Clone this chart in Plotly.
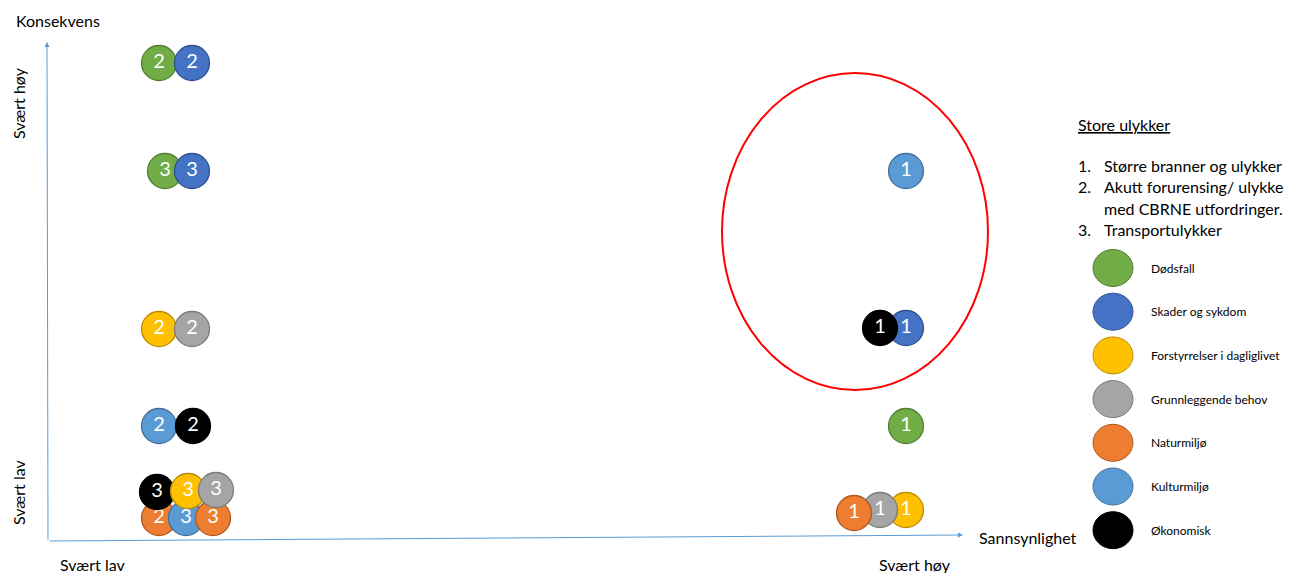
import plotly.graph_objects as go

# Risk matrix: each bubble is one consequence type for one incident category
# (1 = Større branner og ulykker, 2 = Akutt forurensing, 3 = Transportulykker).
# Coordinates are on the diagram's own scale: x = sannsynlighet, y = konsekvens.
labels = ["2", "2", "3", "3", "2", "2", "2", "2",
          "2", "3", "3", "3", "3", "3",
          "1", "1", "1", "1", "1", "1", "1"]
kinds = ["Dødsfall", "Skader og sykdom", "Dødsfall", "Skader og sykdom",
         "Forstyrrelser i dagliglivet", "Grunnleggende behov",
         "Kulturmiljø", "Økonomisk",
         "Naturmiljø", "Kulturmiljø", "Naturmiljø",
         "Økonomisk", "Forstyrrelser i dagliglivet", "Grunnleggende behov",
         "Kulturmiljø", "Skader og sykdom", "Økonomisk", "Dødsfall",
         "Forstyrrelser i dagliglivet", "Grunnleggende behov", "Naturmiljø"]
sannsynlighet = [111, 144, 117, 144, 111, 144, 111, 145,
                 111, 138, 165, 109, 140, 168,
                 858, 858, 832, 858, 858, 832, 806]
konsekvens = [478, 478, 370, 370, 212, 212, 115, 115,
              23, 23, 23, 49, 50, 51,
              370, 213, 213, 115, 31, 31, 28]

legend_names = ["Dødsfall", "Skader og sykdom", "Forstyrrelser i dagliglivet",
                "Grunnleggende behov", "Naturmiljø", "Kulturmiljø", "Økonomisk"]
fill = {"Dødsfall": "#70AD47", "Skader og sykdom": "#4472C4",
        "Forstyrrelser i dagliglivet": "#FFC000", "Grunnleggende behov": "#A5A5A5",
        "Naturmiljø": "#ED7D31", "Kulturmiljø": "#5B9BD5", "Økonomisk": "#000000"}
edge = {"Dødsfall": "#507E32", "Skader og sykdom": "#2F528F",
        "Forstyrrelser i dagliglivet": "#BC8C00", "Grunnleggende behov": "#7B7B7B",
        "Naturmiljø": "#AE5A21", "Kulturmiljø": "#41719C", "Økonomisk": "#000000"}

# numbered incident list (second entry wraps onto two lines)
list_numbers = ["1.", "2.", "", "3."]
list_lines = ["Større branner og ulykker", "Akutt forurensing/ ulykke",
              "med CBRNE utfordringer.", "Transportulykker"]

FONT = "Lato"
AXIS = "#5B9BD5"

fig = go.Figure()

# one trace per bubble so later bubbles sit on top of earlier ones
for lab, kind, xv, yv in zip(labels, kinds, sannsynlighet, konsekvens):
    fig.add_trace(go.Scatter(
        x=[xv], y=[yv], mode="markers+text", text=[lab],
        textposition="middle center",
        textfont=dict(family=FONT, size=20, color="white"),
        marker=dict(size=35, color=fill[kind], line=dict(color=edge[kind], width=1.3)),
        hoverinfo="skip", showlegend=False, cliponaxis=False,
    ))

shapes = []
annotations = []

# axis arrows
annotations.append(dict(x=-1, y=499, ax=0, ay=0, xref="x", yref="y", axref="x", ayref="y",
                        showarrow=True, arrowhead=2, arrowsize=1, arrowwidth=1,
                        arrowcolor=AXIS, text=""))
annotations.append(dict(x=915, y=6, ax=0, ay=0, xref="x", yref="y", axref="x", ayref="y",
                        showarrow=True, arrowhead=2, arrowsize=1, arrowwidth=1,
                        arrowcolor=AXIS, text=""))

# highlight ring around the high-likelihood group
shapes.append(dict(type="circle", xref="x", yref="y", x0=674, x1=940, y0=151, y1=468,
                   line=dict(color="#FF0000", width=2), fillcolor="rgba(0,0,0,0)"))

txt = dict(family=FONT, size=16, color="#000000")
annotations += [
    dict(x=-34, y=521, text="Konsekvens", showarrow=False, xanchor="left", yanchor="middle", font=txt),
    dict(x=-30, y=438, text="Svært høy", showarrow=False, textangle=-90, font=txt),
    dict(x=-30, y=48, text="Svært lav", showarrow=False, textangle=-90, font=txt),
    dict(x=44, y=-23, text="Svært lav", showarrow=False, font=txt),
    dict(x=867, y=-23, text="Svært høy", showarrow=False, font=txt),
    dict(x=929, y=4, text="Sannsynlighet", showarrow=False, xanchor="left", font=txt),
    dict(x=1028, y=417, text="<u>Store ulykker</u>", showarrow=False, xanchor="left", font=txt),
]
for i, (num, line) in enumerate(zip(list_numbers, list_lines)):
    yv = 376 - i * 21.5
    if num:
        annotations.append(dict(x=1028, y=yv, text=num, showarrow=False,
                                xanchor="left", yanchor="middle", font=txt))
    annotations.append(dict(x=1054, y=yv, text=line, showarrow=False, xanchor="left",
                            yanchor="middle", font=txt))

# legend of consequence types
for i, name in enumerate(legend_names):
    cy = 273 - i * 43.7
    shapes.append(dict(type="circle", xref="x", yref="y", x0=1045, x1=1085,
                       y0=cy - 18.5, y1=cy + 18.5, fillcolor=fill[name],
                       line=dict(color=edge[name], width=1)))
    annotations.append(dict(x=1101, y=cy, text=name, showarrow=False, xanchor="left",
                            font=dict(family=FONT, size=12, color="#000000")))

fig.update_layout(
    width=1305, height=573, margin=dict(l=0, r=0, t=0, b=0),
    plot_bgcolor="white", paper_bgcolor="white",
    xaxis=dict(range=[-48, 1257], visible=False, fixedrange=True),
    yaxis=dict(range=[-32, 541], visible=False, fixedrange=True),
    shapes=shapes, annotations=annotations, showlegend=False,
)

fig.write_html("out.html")
